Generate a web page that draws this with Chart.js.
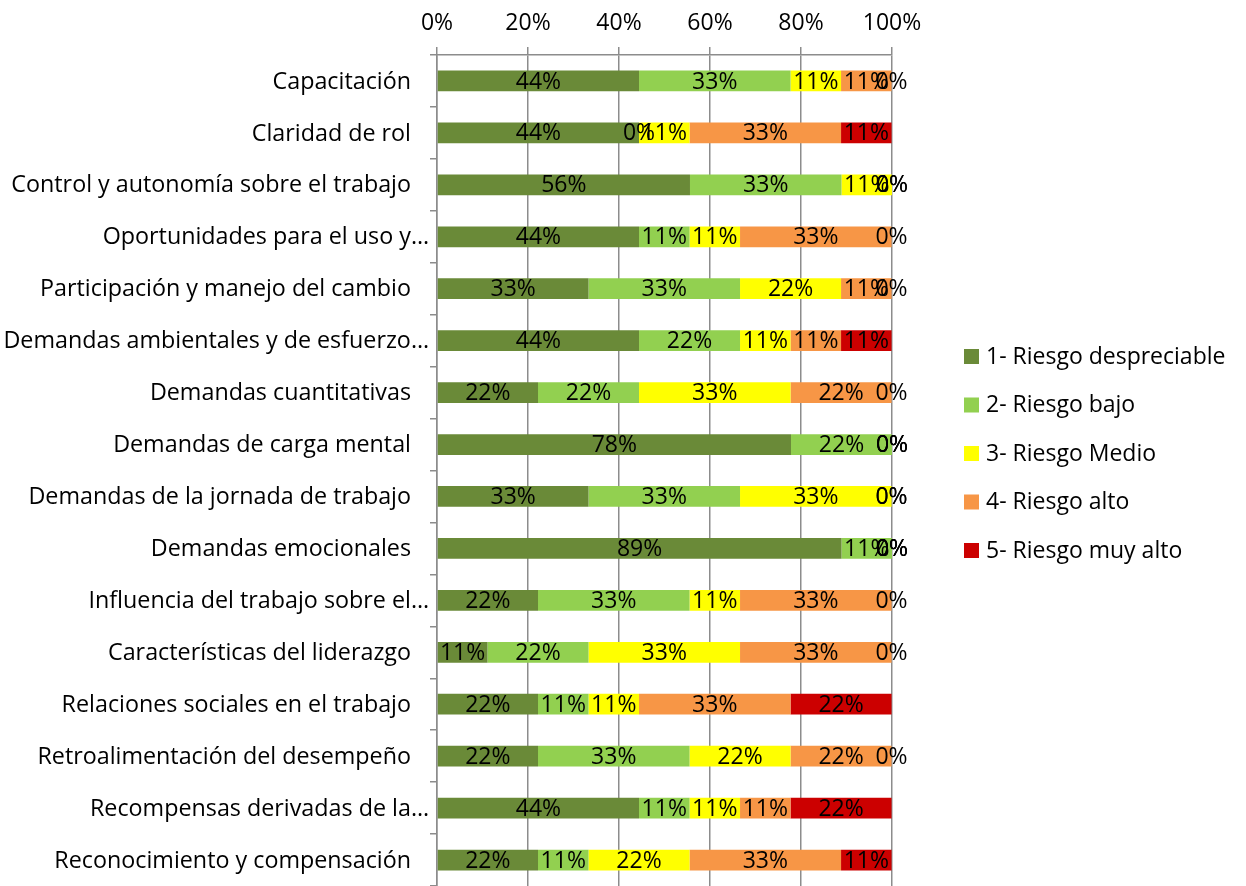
<!DOCTYPE html>
<html>
<head>
<meta charset="utf-8">
<script src="https://cdn.jsdelivr.net/npm/chart.js@4.4.0/dist/chart.umd.min.js"></script>
<style>
  html, body { margin: 0; padding: 0; background: #fff; }
  canvas { display: block; }
</style>
</head>
<body>
<canvas id="grafico" width="1246" height="886"></canvas>
<script>
// Categorías (dimensiones de riesgo psicosocial)
const categorias = [
  'Capacitación',
  'Claridad de rol',
  'Control y autonomía sobre el trabajo',
  'Oportunidades para el uso y…',
  'Participación y manejo del cambio',
  'Demandas ambientales y de esfuerzo…',
  'Demandas cuantitativas',
  'Demandas de carga mental',
  'Demandas de la jornada de trabajo',
  'Demandas emocionales',
  'Influencia del trabajo sobre el…',
  'Características del liderazgo',
  'Relaciones sociales en el trabajo',
  'Retroalimentación del desempeño',
  'Recompensas derivadas de la…',
  'Reconocimiento y compensación'
]

// Porcentajes por nivel de riesgo
const riesgoDespreciable = [44.4, 44.4, 55.6, 44.4, 33.3, 44.4, 22.2, 77.8, 33.3, 88.9, 22.2, 11.1, 22.2, 22.2, 44.4, 22.2]
const riesgoBajo         = [33.3,  0.0, 33.3, 11.1, 33.3, 22.2, 22.2, 22.2, 33.3, 11.1, 33.3, 22.2, 11.1, 33.3, 11.1, 11.1]
const riesgoMedio        = [11.1, 11.1, 11.1, 11.1, 22.2, 11.1, 33.3,  0.0, 33.3,  0.0, 11.1, 33.3, 11.1, 22.2, 11.1, 22.2]
const riesgoAlto         = [11.1, 33.3,  0.0, 33.3, 11.1, 11.1, 22.2,  0.0,  0.0,  0.0, 33.3, 33.3, 33.3, 22.2, 11.1, 33.3]
const riesgoMuyAlto      = [ 0.0, 11.1,  0.0,  0.0,  0.0, 11.1,  0.0,  0.0,  0.0,  0.0,  0.0,  0.0, 22.2,  0.0, 22.2, 11.1]

const series = ['1- Riesgo despreciable', '2- Riesgo bajo', '3- Riesgo Medio', '4- Riesgo alto', '5- Riesgo muy alto']
const colores = ['#6A8A38', '#92D050', '#FFFF00', '#F79646', '#CC0000']

const ticksX = [0, 20, 40, 60, 80, 100]

const fuente = 'Open Sans'
const gris = '#8C8C8C'

// Etiquetas de categoría (las recortadas con "…" llegan más a la derecha)
const categoriasEje = {
  id: 'categoriasEje',
  afterDraw(chart){
    const ctx = chart.ctx
    const y = chart.scales.y
    ctx.save()
    ctx.font = '23.3px "' + fuente + '"'
    ctx.fillStyle = '#000'
    ctx.textAlign = 'right'
    ctx.textBaseline = 'middle'
    chart.data.labels.forEach((txt, i) => {
      const x = txt.endsWith('…') ? 429 : 411
      ctx.fillText(txt, x, y.getPixelForTick(i) + 1)
    })
    ctx.restore()
  }
}

// Etiquetas de datos dentro de cada segmento
const etiquetas = {
  id: 'etiquetas',
  afterDatasetsDraw(chart){
    const ctx = chart.ctx
    ctx.save()
    ctx.font = '23px "' + fuente + '"'
    ctx.fillStyle = '#000'
    ctx.textAlign = 'center'
    ctx.textBaseline = 'middle'
    chart.data.datasets.forEach((ds, i) => {
      const meta = chart.getDatasetMeta(i)
      meta.data.forEach((bar, j) => {
        const cx = (bar.x + bar.base) / 2
        ctx.fillText(Math.round(ds.data[j]) + '%', cx, bar.y + 1)
      })
    })
    ctx.restore()
  }
}

// Leyenda a la derecha
const leyenda = {
  id: 'leyenda',
  afterDraw(chart){
    const ctx = chart.ctx
    ctx.save()
    ctx.font = '23px "' + fuente + '"'
    ctx.textAlign = 'left'
    ctx.textBaseline = 'middle'
    chart.data.datasets.forEach((ds, i) => {
      const y = 356 + i * 48.5
      ctx.fillStyle = ds.backgroundColor
      ctx.fillRect(964, y - 7, 15, 15)
      ctx.fillStyle = '#000'
      ctx.fillText(ds.label, 986, y + 1)
    })
    ctx.restore()
  }
}

const datos = [riesgoDespreciable, riesgoBajo, riesgoMedio, riesgoAlto, riesgoMuyAlto]

new Chart(document.getElementById('grafico'), {
  type: 'bar',
  data: {
    labels: categorias,
    datasets: series.map((s, i) => ({
      label: s,
      data: datos[i],
      backgroundColor: colores[i],
      borderWidth: 0,
      barPercentage: 0.4,
      categoryPercentage: 1
    }))
  },
  options: {
    indexAxis: 'y',
    responsive: false,
    animation: false,
    devicePixelRatio: 1,
    layout: { padding: { left: 0, right: 354, top: 0, bottom: 0 } },
    plugins: {
      legend: { display: false },
      tooltip: { enabled: false }
    },
    scales: {
      x: {
        position: 'top',
        stacked: true,
        min: 0,
        max: 100,
        afterBuildTicks(axis){ axis.ticks = ticksX.map(v => ({ value: v })) },
        afterFit(axis){ axis.height = 55 },
        ticks: {
          callback: v => v + '%',
          color: '#000',
          font: { family: fuente, size: 23 },
          padding: 10,
          maxRotation: 0
        },
        grid: { color: gris, lineWidth: 1.5, tickLength: 8 },
        border: { color: gris, width: 1.5 }
      },
      y: {
        stacked: true,
        afterFit(axis){
          axis.width = 437
          axis.paddingTop = 0
          axis.paddingBottom = 0
        },
        ticks: { display: false, autoSkip: false },
        grid: { offset: true, drawOnChartArea: false, color: gris, lineWidth: 1.5, tickLength: 7 },
        border: { color: gris, width: 1.5 }
      }
    }
  },
  plugins: [etiquetas, categoriasEje, leyenda]
})
</script>
</body>
</html>
